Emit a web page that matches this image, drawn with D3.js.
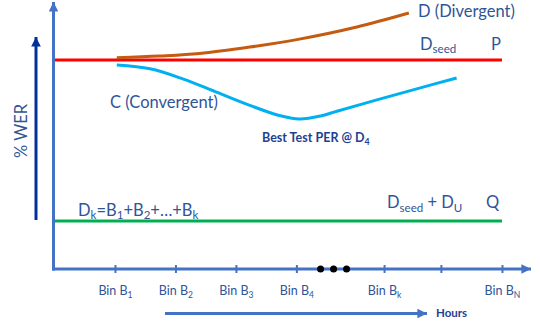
<!DOCTYPE html>
<html><head><meta charset="utf-8">
<script src="https://cdn.jsdelivr.net/npm/d3@7"></script>
<style>
html,body{margin:0;padding:0;background:#fff;}
svg{display:block;font-family:Lato,"Open Sans",sans-serif;}
</style></head>
<body><div id="chart"></div>
<script>
// ---- data ----
const binPositions = [1, 2, 3, 4, 5.45, 6.39, 7.4];
const binLabels    = [["Bin B","1"],["Bin B","2"],["Bin B","3"],["Bin B","4"],["Bin B","k"],["",""],["Bin B","N"]];
const ellipsisPositions = [4.40, 4.615, 4.83];
const seedLevel = 100;          // P : D_seed
const fullLevel = 23;           // Q : D_seed + D_U
const levelStart = 0, levelEnd = 7.4;
const divergentX = [1.03, 1.74, 2.40, 3.23, 4.05, 5.0, 5.86];
const divergentY = [101.1, 101.9, 103.1, 106.2, 110.0, 115.8, 122.5];
const convergentX = [1.03, 1.58, 2.12, 2.69, 3.23, 3.70, 4.05, 4.40, 4.67, 5.33, 5.99, 6.65];
const convergentY = [97.6, 95.8, 91.0, 84.5, 78.3, 73.6, 71.8, 73.2, 75.5, 80.9, 86.2, 91.4];

const W = 540, H = 324;
const svg = d3.select("#chart").append("svg").attr("width", W).attr("height", H);

const x = d3.scaleLinear().domain([0, 7.88]).range([54.5, 531]);
const y = d3.scaleLinear().domain([0, 100]).range([269, 60]);

const axisCol = "#4472c4", textCol = "#2f5597", navy = "#00309a", boldCol = "#1f3f8f";

const defs = svg.append("defs");
function marker(id, col){
  defs.append("marker").attr("id", id).attr("viewBox","0 0 10 10")
    .attr("refX", 10).attr("refY", 5).attr("markerWidth", 3.2).attr("markerHeight", 3.2)
    .attr("markerUnits","strokeWidth").attr("orient","auto")
    .append("path").attr("d","M0,0 L10,5 L0,10 Z").attr("fill", col);
}
marker("arrAxis", axisCol); marker("arrNavy", navy);

// level lines
svg.append("line").attr("x1", x(levelStart)).attr("x2", x(levelEnd))
  .attr("y1", y(seedLevel)).attr("y2", y(seedLevel)).attr("stroke","#ff0000").attr("stroke-width",3);
svg.append("line").attr("x1", x(levelStart)).attr("x2", x(levelEnd))
  .attr("y1", y(fullLevel)).attr("y2", y(fullLevel)).attr("stroke","#00b050").attr("stroke-width",3);

// curves
const line = d3.line().x(d => x(d[0])).y(d => y(d[1])).curve(d3.curveCatmullRom.alpha(0.5));
svg.append("path").attr("d", line(divergentX.map((v,i)=>[v, divergentY[i]])))
  .attr("fill","none").attr("stroke","#c55a11").attr("stroke-width",3);
svg.append("path").attr("d", line(convergentX.map((v,i)=>[v, convergentY[i]])))
  .attr("fill","none").attr("stroke","#00b0f0").attr("stroke-width",3);

// main axes
svg.append("line").attr("x1", x(0)-1).attr("x2", x(0)-1).attr("y1", y(0)+1.5).attr("y2", 2)
  .attr("stroke", axisCol).attr("stroke-width",3).attr("marker-end","url(#arrAxis)");
const xAxis = d3.axisBottom(x).tickValues(binPositions).tickSize(8).tickFormat(() => "");
const gx = svg.append("g").attr("transform", `translate(0,${y(0)})`).call(xAxis);
gx.select(".domain").remove();
gx.selectAll(".tick line").attr("y1",-4).attr("y2",4).attr("stroke",axisCol).attr("stroke-width",2);
svg.append("line").attr("x1", x(0)-2.5).attr("x2", x(7.88)).attr("y1", y(0)).attr("y2", y(0))
  .attr("stroke", axisCol).attr("stroke-width",3).attr("marker-end","url(#arrAxis)");
gx.selectAll(".tick").each(function(d,i){
  const t = d3.select(this).append("text").attr("y", 26).attr("text-anchor","middle")
    .attr("fill", textCol).attr("font-size", 12.5).attr("font-family","Lato, sans-serif");
  t.append("tspan").text(binLabels[i][0]);
  t.append("tspan").attr("font-size", 8.5).attr("dy", 3).text(binLabels[i][1]);
});

// ellipsis dots
svg.selectAll("circle.dot").data(ellipsisPositions).enter().append("circle")
  .attr("cx", d => x(d)).attr("cy", y(0)).attr("r", 3.5).attr("fill","#000");

// hours arrow
svg.append("line").attr("x1",165).attr("x2",427).attr("y1",313.5).attr("y2",313.5)
  .attr("stroke", axisCol).attr("stroke-width",3).attr("marker-end","url(#arrAxis)");
svg.append("text").attr("x",436).attr("y",317).attr("fill",boldCol).attr("font-weight","bold")
  .attr("font-size",11.5).text("Hours");

// %WER arrow
svg.append("line").attr("x1",36).attr("x2",36).attr("y1",220).attr("y2",37)
  .attr("stroke", navy).attr("stroke-width",3).attr("marker-end","url(#arrNavy)");
svg.append("text").attr("transform","translate(27,131) rotate(-90)").attr("text-anchor","middle")
  .attr("fill", textCol).attr("font-size",16.5).text("% WER");

// annotations
function sub(t, parts, size){
  parts.forEach(p => {
    const s = t.append("tspan").text(p[0]);
    if (p[1] === "sub") s.attr("font-size", size*0.7).attr("dy", 3.5);
    else if (p[1] === "up") s.attr("dy", -3.5);
  });
}
const fs = 16.5;
svg.append("text").attr("x",418).attr("y",17).attr("fill",textCol).attr("font-size",fs).text("D (Divergent)");
svg.append("text").attr("x",110).attr("y",108).attr("fill",textCol).attr("font-size",fs).text("C (Convergent)");
let t = svg.append("text").attr("x",420).attr("y",49.5).attr("fill",textCol).attr("font-size",fs);
sub(t, [["D"],["seed","sub"]], fs);
svg.append("text").attr("x",491).attr("y",49.5).attr("fill",textCol).attr("font-size",fs).text("P");
t = svg.append("text").attr("x",78).attr("y",215.5).attr("fill",textCol).attr("font-size",fs);
sub(t, [["D"],["k","sub"],["=B","up"],["1","sub"],["+B","up"],["2","sub"],["+…+B","up"],["k","sub"]], fs);
t = svg.append("text").attr("x",387).attr("y",208).attr("fill",textCol).attr("font-size",fs);
sub(t, [["D"],["seed","sub"],[" + D","up"],["U","sub"]], fs);
svg.append("text").attr("x",486).attr("y",208).attr("fill",textCol).attr("font-size",fs).text("Q");
t = svg.append("text").attr("x",262).attr("y",141.5).attr("fill",boldCol).attr("font-size",12.5).attr("font-weight","bold");
sub(t, [["Best Test PER @ D"],["4","sub"]], 12.5);
</script></body></html>
